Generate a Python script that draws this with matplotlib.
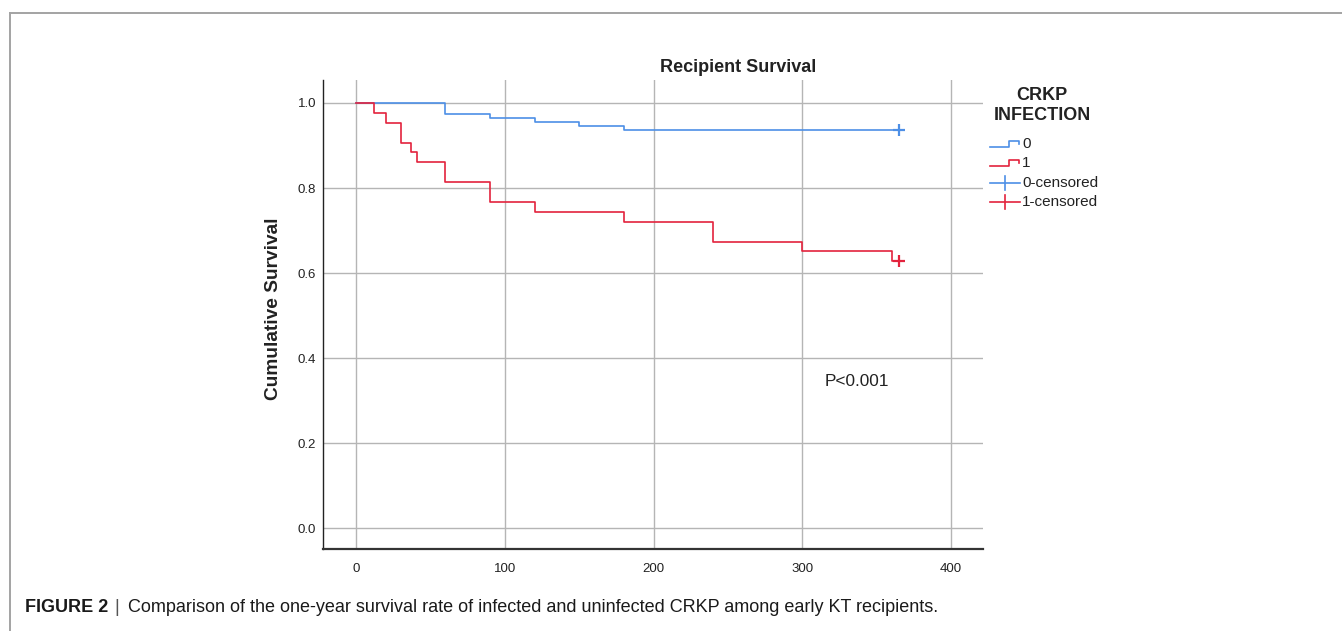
import matplotlib
matplotlib.use("Agg")
import matplotlib.pyplot as plt
from matplotlib.lines import Line2D

plt.rcParams['font.family'] = ['Liberation Sans', 'DejaVu Sans']

# Data
t0 = [0, 60, 90, 120, 150, 180, 365]
s0 = [1.0, 0.973, 0.964, 0.955, 0.945, 0.936, 0.936]
t1 = [0, 12, 20, 30, 37, 41, 60, 90, 120, 180, 240, 300, 360, 365]
s1 = [1.0, 0.977, 0.953, 0.907, 0.884, 0.860, 0.814, 0.767, 0.744, 0.721, 0.674, 0.651, 0.628, 0.628]
cens0 = ([365], [0.936])
cens1 = ([365], [0.628])
xticks = [0, 100, 200, 300, 400]
yticks = [0.0, 0.2, 0.4, 0.6, 0.8, 1.0]
legend_labels = ["0", "1", "0-censored", "1-censored"]

BLUE = "#4d8fe6"
RED = "#e3233d"
TXT = "#222222"
W, H = 1342, 631
fig = plt.figure(figsize=(W / 100, H / 100), dpi=100)

def fx(px):
    return px / W

def fy(py):
    return 1 - py / H

ax = fig.add_axes([fx(323), fy(549), fx(983) - fx(323), fy(80) - fy(549)])
ax.set_xlim(-22.2, 421.4)
ax.set_ylim(-0.049, 1.054)
ax.set_xticks(xticks)
ax.set_yticks(yticks)
ax.set_xticklabels([str(v) for v in xticks])
ax.set_yticklabels([f"{v:.1f}" for v in yticks])
ax.tick_params(length=0, labelsize=9.5, colors=TXT)
ax.tick_params(axis='x', pad=10)
ax.tick_params(axis='y', pad=5)
ax.grid(True, color="#b5b5b5", lw=1.0)
ax.set_axisbelow(True)
for s in ["top", "right"]:
    ax.spines[s].set_visible(False)
ax.spines["left"].set_color("#222222")
ax.spines["left"].set_linewidth(1.0)
ax.spines["bottom"].set_color("#333333")
ax.spines["bottom"].set_linewidth(1.6)

ax.step(t0, s0, where="post", color=BLUE, lw=1.2)
ax.step(t1, s1, where="post", color=RED, lw=1.2)
ax.plot(*cens0, marker="+", ls="none", color=BLUE, ms=9, mew=1.6)
ax.plot(*cens1, marker="+", ls="none", color=RED, ms=9, mew=1.6)

ax.text(336.8, 0.344, "P<0.001", fontsize=12.4, ha="center", va="center", color=TXT)

fig.text(fx(738), fy(67), "Recipient Survival", fontsize=13, fontweight="bold",
         ha="center", va="center", color=TXT)
fig.text(fx(273), fy(309), "Cumulative Survival", fontsize=13.8, fontweight="bold",
         ha="center", va="center", rotation=90, color=TXT)

# Legend (manual)
fig.text(fx(1042), fy(95), "CRKP", fontsize=13, fontweight="bold", ha="center", va="center", color=TXT)
fig.text(fx(1042), fy(115), "INFECTION", fontsize=13, fontweight="bold", ha="center", va="center", color=TXT)
rows = [144, 163, 183, 202]
cols = [BLUE, RED, BLUE, RED]
for i, (yy, c, lab) in enumerate(zip(rows, cols, legend_labels)):
    if i < 2:
        xs = [990, 1009, 1009, 1019, 1019]
        ys = [yy + 3, yy + 3, yy - 3, yy - 3, yy]
        fig.add_artist(Line2D([fx(v) for v in xs], [fy(v) for v in ys], color=c, lw=1.2))
    else:
        fig.add_artist(Line2D([fx(990), fx(1020)], [fy(yy), fy(yy)], color=c, lw=1.2))
        fig.add_artist(Line2D([fx(1005), fx(1005)], [fy(yy - 7), fy(yy + 7)], color=c, lw=1.2))
    fig.text(fx(1022), fy(yy), lab, fontsize=11, ha="left", va="center", color=TXT)

# Outer frame
fig.add_artist(Line2D([fx(9.5), fx(1342)], [fy(13), fy(13)], color="#a3a3a3", lw=1.4))
fig.add_artist(Line2D([fx(9.5), fx(9.5)], [fy(13), fy(631)], color="#a3a3a3", lw=1.4))

# Caption
fig.text(fx(25), fy(608), "FIGURE 2", fontsize=13, fontweight="bold", ha="left", va="center", color="#1a1a1a")
fig.text(fx(117), fy(608), "|", fontsize=13, ha="center", va="center", color="#555555")
fig.text(fx(128), fy(608), "Comparison of the one-year survival rate of infected and uninfected CRKP among early KT recipients.",
         fontsize=13, ha="left", va="center", color="#1a1a1a")

fig.savefig("out.png", dpi=100)
